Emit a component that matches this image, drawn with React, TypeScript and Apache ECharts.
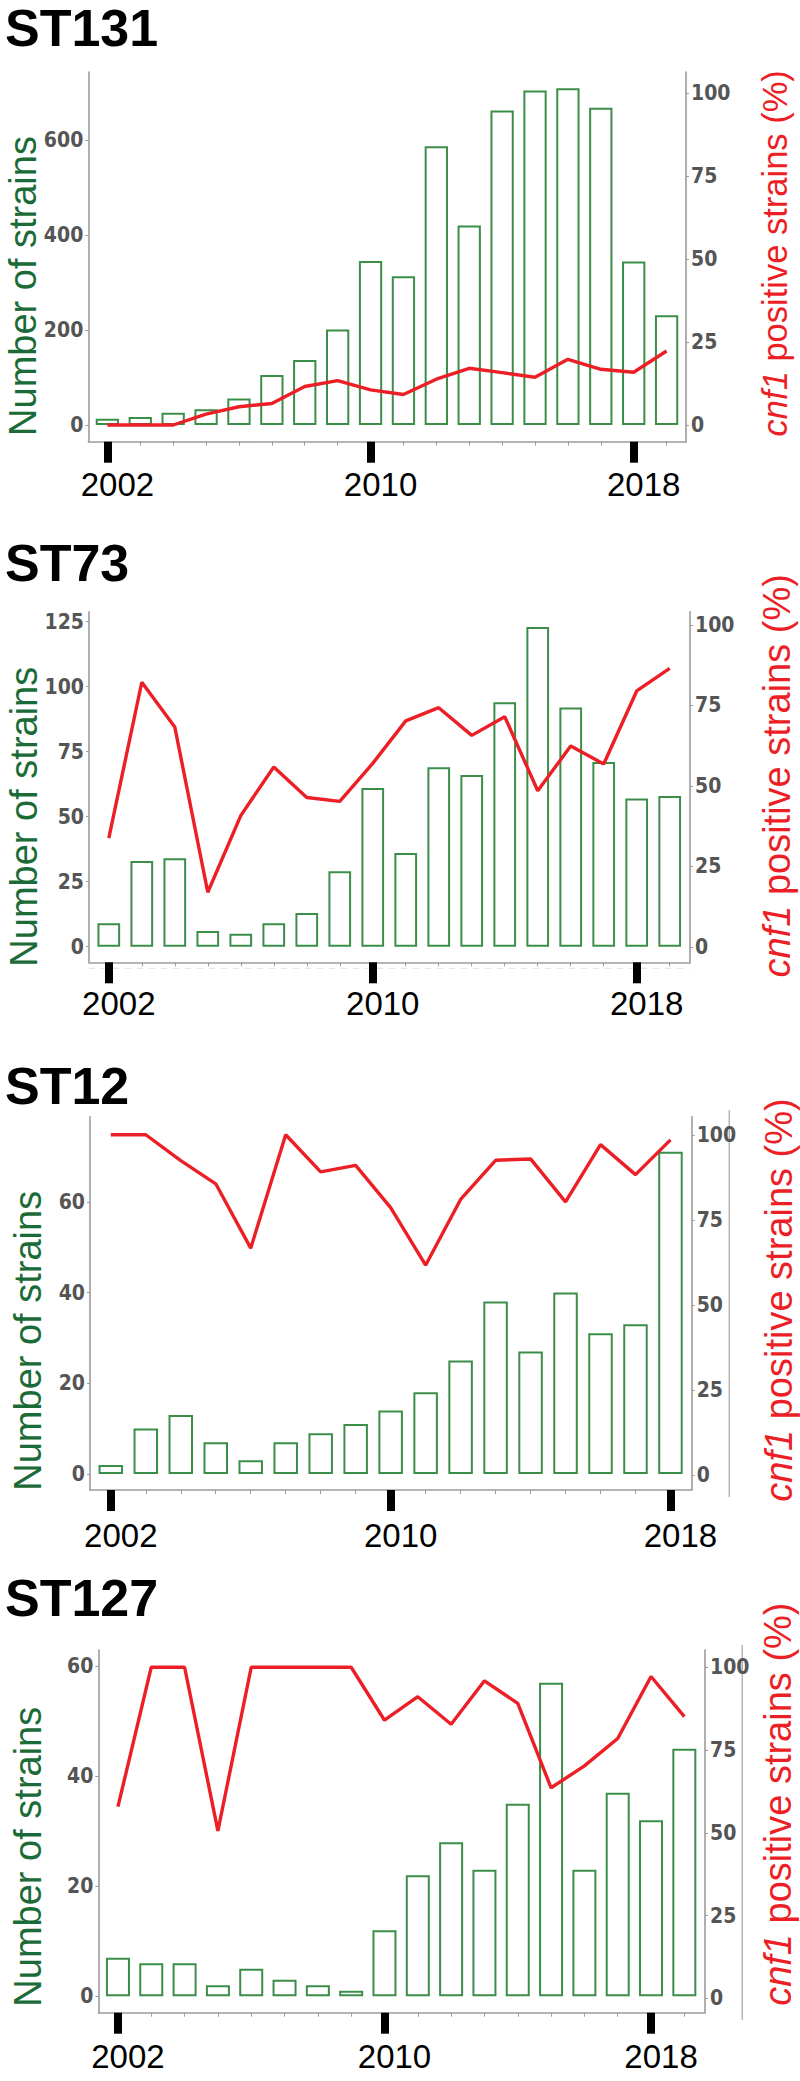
import React, { useEffect, useRef } from "react";
import * as echarts from "echarts";

// ---- data ----
const years131 = [2002, 2003, 2004, 2005, 2006, 2007, 2008, 2009, 2010, 2011, 2012, 2013, 2014, 2015, 2016, 2017, 2018, 2019];
const count131 = [13, 17, 26, 33, 56, 105, 137, 201, 345, 313, 587, 420, 662, 704, 709, 668, 344, 231];
const pct131 = [0, 0, 0, 3.3, 5.5, 6.5, 11.6, 13.4, 10.6, 9.2, 13.8, 17.1, 15.8, 14.4, 19.8, 16.8, 15.9, 22.3];

const years73 = [2002, 2003, 2004, 2005, 2006, 2007, 2008, 2009, 2010, 2011, 2012, 2013, 2014, 2015, 2016, 2017, 2018, 2019];
const count73 = [9, 33, 34, 6, 5, 9, 13, 29, 61, 36, 69, 66, 94, 123, 92, 71, 57, 58];
const pct73 = [33.8, 82.2, 68.3, 17, 40.8, 55.9, 46.4, 45.2, 57, 70.2, 74.3, 65.7, 71.5, 48.5, 62.4, 56.8, 79.5, 86.5];

const years12 = [2002, 2003, 2004, 2005, 2006, 2007, 2008, 2009, 2010, 2011, 2012, 2013, 2014, 2015, 2016, 2017, 2018];
const count12 = [2, 10, 13, 7, 3, 7, 9, 11, 14, 18, 25, 38, 27, 40, 31, 33, 71];
const pct12 = [100, 100, 92.4, 85.6, 66.7, 100, 89.1, 91, 78.6, 61.7, 81, 92.5, 92.9, 80.3, 97.1, 88.3, 98.5];

const years127 = [2002, 2003, 2004, 2005, 2006, 2007, 2008, 2009, 2010, 2011, 2012, 2013, 2014, 2015, 2016, 2017, 2018, 2019];
const count127 = [7, 6, 6, 2, 5, 3, 2, 1, 12, 22, 28, 23, 35, 57, 23, 37, 32, 45];
const pct127 = [57.9, 100, 100, 50.6, 100, 100, 100, 100, 84, 91.1, 82.8, 95.9, 89.1, 63.6, 70.2, 78.5, 97.2, 85.1];

const titles = ["ST131", "ST73", "ST12", "ST127"];
const yearTicks = [2002, 2010, 2018];
const leftTicks131 = [0, 200, 400, 600];
const leftTicks73 = [0, 25, 50, 75, 100, 125];
const leftTicks12 = [0, 20, 40, 60];
const leftTicks127 = [0, 20, 40, 60];
const rightTicks = [0, 25, 50, 75, 100];
const leftName = "Number of strains";
const rightNameItalic = "cnf1";
const rightNameRest = " positive strains (%)";

// ---- layout / style ----
const NARROW = "'Liberation Sans Narrow', 'Arial Narrow', 'DejaVu Sans Condensed', sans-serif";
const SANS = "'Liberation Sans', Arial, Helvetica, sans-serif";
const RED = "#ec1f26";
const GREEN_TXT = "#1b6b38";
const GREEN_BAR = "#3b8e48";
const AXIS_GRAY = "#9c9c9c";

const panels = [
  {
    title: titles[0], years: years131, counts: count131, pcts: pct131, leftTicks: leftTicks131,
    left: 88.3, right: 686, top: 72, bottom: 441.7, xMin: 2001.42, xMax: 2019.59,
    yL: [-35.2, 743.2], yR: [-5.03, 106.4], barW: 23.3, titleY: 28.3,
    nameL: [22.8, 286], nameR: [775, 253.3], nameRSize: 34.5, labelMargin: 26,
  },
  {
    title: titles[1], years: years73, counts: count73, pcts: pct73, leftTicks: leftTicks73,
    left: 89, right: 690, top: 611.7, bottom: 962.3, xMin: 2001.4, xMax: 2019.615,
    yL: [-6.0, 128.85], yR: [-4.75, 104.1], barW: 22.7, titleY: 562.5,
    nameL: [23.8, 816.7], nameR: [777, 775.8], nameRSize: 38, labelMargin: 25, dashY: 968.3,
  },
  {
    title: titles[2], years: years12, counts: count12, pcts: pct12, leftTicks: leftTicks12,
    left: 90, right: 691.7, top: 1116.7, bottom: 1490, xMin: 2001.405, xMax: 2018.607,
    yL: [-3.53, 78.75], yR: [-4.3, 105.3], barW: 24.5, titleY: 1085.8,
    nameL: [27.8, 1340.8], nameR: [779, 1300], nameRSize: 38, labelMargin: 29,
    extra: [729.3, 1110, 1497],
  },
  {
    title: titles[3], years: years127, counts: count127, pcts: pct127, leftTicks: leftTicks127,
    left: 98.3, right: 705, top: 1650, bottom: 2012.7, xMin: 2001.41, xMax: 2019.62,
    yL: [-2.98, 62.96], yR: [-4.3, 105.2], barW: 24, titleY: 1598.3,
    nameL: [27.8, 1856.7], nameR: [778, 1804.2], nameRSize: 38, labelMargin: 27,
    extra: [742.3, 1645, 2020],
  },
];

function buildOption() {
  const grid: any[] = [];
  const xAxis: any[] = [];
  const yAxis: any[] = [];
  const series: any[] = [];
  const graphic: any[] = [];

  panels.forEach((p: any, i: number) => {
    grid.push({
      left: p.left, top: p.top, width: p.right - p.left, height: p.bottom - p.top,
      containLabel: false, outerBoundsMode: "none",
    });
    xAxis.push({
      type: "value", gridIndex: i, min: p.xMin, max: p.xMax, position: "bottom",
      axisLine: { show: true, onZero: false, lineStyle: { color: AXIS_GRAY, width: 1.6 } },
      axisTick: { show: true, customValues: p.years, length: 4, lineStyle: { color: AXIS_GRAY, width: 1 } },
      axisLabel: { show: false },
      splitLine: { show: false },
    });
    xAxis.push({
      type: "value", gridIndex: i, min: p.xMin, max: p.xMax, position: "bottom",
      axisLine: { show: false, onZero: false },
      axisTick: { show: true, customValues: yearTicks, length: 21, lineStyle: { color: "#000", width: 8 } },
      axisLabel: {
        show: true, customValues: yearTicks, fontSize: 33, color: "#000", fontFamily: SANS,
        margin: p.labelMargin, padding: [0, 0, 0, 20], formatter: (v: number) => String(v),
      },
      splitLine: { show: false },
    });
    const yCommon = {
      type: "value", gridIndex: i,
      axisLine: { show: true, onZero: false, lineStyle: { color: AXIS_GRAY, width: 1.6 } },
      splitLine: { show: false },
    };
    yAxis.push({
      ...yCommon, position: "left", min: p.yL[0], max: p.yL[1],
      axisTick: { show: true, customValues: p.leftTicks, length: 3, lineStyle: { color: AXIS_GRAY } },
      axisLabel: { customValues: p.leftTicks, fontSize: 21, fontFamily: NARROW, fontWeight: "bold", color: "#555", margin: 5 },
    });
    yAxis.push({
      ...yCommon, position: "right", min: p.yR[0], max: p.yR[1],
      axisTick: { show: true, customValues: rightTicks, length: 3, lineStyle: { color: AXIS_GRAY } },
      axisLabel: { customValues: rightTicks, fontSize: 21, fontFamily: NARROW, fontWeight: "bold", color: "#555", margin: 5 },
    });
    series.push({
      type: "bar", xAxisIndex: 2 * i, yAxisIndex: 2 * i, barWidth: p.barW, silent: true,
      data: p.years.map((y: number, k: number) => [y, p.counts[k]]),
      itemStyle: { color: "#ffffff", borderColor: GREEN_BAR, borderWidth: 2 },
      z: 2,
    });
    series.push({
      type: "line", xAxisIndex: 2 * i, yAxisIndex: 2 * i + 1, symbol: "none", silent: true,
      data: p.years.map((y: number, k: number) => [y, p.pcts[k]]),
      lineStyle: { color: RED, width: 3.4 },
      z: 5,
    });

    graphic.push({
      type: "text", x: 5, y: p.titleY,
      style: { text: p.title, fontSize: 52, fontWeight: "bold", fontFamily: SANS, fill: "#000", align: "left", verticalAlign: "middle" },
    });
    graphic.push({
      type: "text", x: p.nameL[0], y: p.nameL[1], rotation: Math.PI / 2,
      style: { text: leftName, fontSize: 38, fontFamily: SANS, fill: GREEN_TXT, align: "center", verticalAlign: "middle" },
    });
    graphic.push({
      type: "text", x: p.nameR[0], y: p.nameR[1], rotation: Math.PI / 2,
      style: {
        text: "{i|" + rightNameItalic + "}{n|" + rightNameRest + "}",
        fontSize: p.nameRSize, fontFamily: SANS, fill: RED, align: "center", verticalAlign: "middle",
        rich: {
          i: { fontStyle: "italic", fontSize: p.nameRSize, fontFamily: SANS, fill: RED },
          n: { fontSize: p.nameRSize, fontFamily: SANS, fill: RED },
        },
      },
    });
    if (p.extra) {
      graphic.push({
        type: "line", shape: { x1: p.extra[0], y1: p.extra[1], x2: p.extra[0], y2: p.extra[2] },
        style: { stroke: "#b5b5b5", lineWidth: 1.5 },
      });
    }
    if (p.dashY) {
      graphic.push({
        type: "line", shape: { x1: p.left, y1: p.dashY, x2: p.right, y2: p.dashY },
        style: { stroke: "#e2e2e2", lineWidth: 1, lineDash: [6, 6] },
      });
    }
  });

  return { animation: false, backgroundColor: "#ffffff", grid, xAxis, yAxis, series, graphic };
}

export default function App() {
  const ref = useRef<HTMLDivElement>(null);
  useEffect(() => {
    document.body.style.margin = "0";
    if (!ref.current) return;
    const chart = echarts.init(ref.current, undefined, { renderer: "svg" });
    chart.setOption(buildOption() as any);
    return () => chart.dispose();
  }, []);
  return <div ref={ref} style={{ width: 800, height: 2081 }} />;
}
